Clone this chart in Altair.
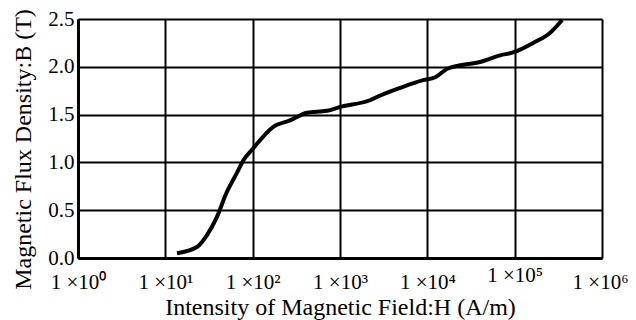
import altair as alt
import pandas as pd

H = [13.6, 23, 30, 39, 50, 66, 78, 100, 171, 268, 420, 710, 1000, 2200, 2900,
     4900, 8950, 12300, 16900, 21900, 40000, 68000, 96000, 163000, 257000, 350000]
B = [0.05, 0.115, 0.24, 0.43, 0.68, 0.89, 1.02, 1.14, 1.37, 1.44, 1.52, 1.54,
     1.58, 1.65, 1.70, 1.78, 1.86, 1.89, 1.98, 2.01, 2.05, 2.12, 2.15, 2.25,
     2.36, 2.49]
x_ticks = [1, 10, 100, 1000, 10000, 100000, 1000000]
x_labels = ["1 \u00d710\u2070", "1 \u00d710\u00b9", "1 \u00d710\u00b2", "1 \u00d710\u00b3",
            "1 \u00d710\u2074", "1 \u00d710\u2075", "1 \u00d710\u2076"]
y_ticks = [0.0, 0.5, 1.0, 1.5, 2.0, 2.5]

df = pd.DataFrame({"H": H, "B": B})

label_expr = " : ".join(
    f"datum.value == {v} ? '{l}'" for v, l in zip(x_ticks, x_labels)
) + " : ''"

FONT = "Liberation Serif"

chart = alt.Chart(df).mark_line(
    color="black", strokeWidth=4, interpolate="monotone"
).encode(
    x=alt.X("H:Q",
            scale=alt.Scale(type="log", domain=[1, 1000000], nice=False),
            axis=alt.Axis(values=x_ticks, labelExpr=label_expr,
                          title="Intensity of Magnetic Field:H (A/m)",
                          titleFont=FONT, titleFontSize=24, titleFontWeight="normal",
                          titleColor="black", titlePadding=3,
                          labelFont=FONT, labelFontSize=21, labelColor="black",
                          labelPadding={"condition": {"test": "datum.value == 100000", "value": 6},
                                        "value": 13},
                          labelAlign={"condition": {"test": "datum.value == 1000000", "value": "right"},
                                      "value": "center"},
                          labelOffset={"condition": {"test": "datum.value == 1000000", "value": 26},
                                       "value": 0},
                          ticks=False, domainColor="black",
                          domainWidth=3, gridColor="black", gridWidth=2,
                          gridOpacity=1, labelFlush=False, labelOverlap=False)),
    y=alt.Y("B:Q",
            scale=alt.Scale(domain=[0, 2.5], nice=False),
            axis=alt.Axis(values=y_ticks, format=".1f",
                          title="Magnetic Flux Density:B (T)",
                          titleFont=FONT, titleFontSize=24, titleFontWeight="normal",
                          titleColor="black", titleX=-48, titleY=130,
                          titleBaseline="alphabetic",
                          labelFont=FONT, labelFontSize=21, labelColor="black",
                          labelPadding=4, ticks=False, domainColor="black",
                          domainWidth=3, gridColor="black", gridWidth=2,
                          gridOpacity=1, labelFlush=False)),
).properties(
    width=524, height=239,
    autosize=alt.AutoSizeParams(type="none"),
    padding={"left": 70, "top": 11, "right": 26, "bottom": 66},
).configure_view(stroke="black", strokeWidth=3).configure(background="white")

chart.save("out.html", embed_options={"renderer": "svg", "actions": False})
